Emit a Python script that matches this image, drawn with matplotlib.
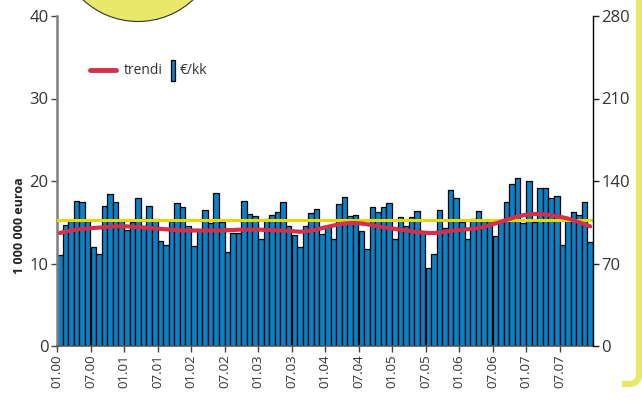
import matplotlib
matplotlib.use("Agg")
import matplotlib.pyplot as plt
from matplotlib.patches import Ellipse, Rectangle
from matplotlib.path import Path
from matplotlib.patches import PathPatch

plt.rcParams['font.family'] = ['Open Sans', 'DejaVu Sans']

# monthly values, 01.2000 .. 12.2007 (million euro)
values = [11.0, 14.7, 15.2, 17.6, 17.4, 15.2, 12.0, 11.2, 17.0, 18.4, 17.5, 15.2,
          14.1, 15.0, 18.0, 14.6, 17.0, 15.4, 12.7, 12.2, 15.2, 17.3, 16.9, 14.5,
          12.1, 14.1, 16.5, 14.9, 18.5, 15.0, 11.4, 13.7, 13.7, 17.6, 16.0, 15.8,
          13.0, 15.4, 15.9, 16.2, 17.5, 14.5, 13.4, 12.0, 14.6, 16.1, 16.6, 13.6,
          14.5, 13.0, 17.2, 18.1, 15.8, 15.9, 14.0, 11.8, 16.9, 16.2, 16.8, 17.3,
          13.0, 15.6, 14.5, 15.6, 16.4, 13.9, 9.5, 11.2, 16.5, 14.3, 18.9, 18.0,
          15.0, 13.0, 15.4, 16.4, 15.1, 15.2, 13.3, 15.3, 17.4, 19.6, 20.4, 14.9,
          20.0, 15.0, 19.2, 19.2, 17.9, 18.2, 12.3, 15.1, 16.3, 15.9, 17.5, 12.6]

trend = [13.7, 13.85, 14.0, 14.1, 14.2, 14.25, 14.3, 14.35, 14.4, 14.45, 14.5, 14.5,
         14.5, 14.45, 14.4, 14.35, 14.3, 14.25, 14.2, 14.15, 14.1, 14.05, 14.0, 14.0,
         14.0, 14.0, 14.0, 14.0, 14.0, 14.0, 14.05, 14.05, 14.1, 14.1, 14.1, 14.1,
         14.1, 14.05, 14.05, 14.0, 14.0, 13.95, 13.9, 13.85, 13.9, 14.0, 14.1, 14.3,
         14.45, 14.6, 14.75, 14.85, 14.9, 14.9, 14.85, 14.75, 14.65, 14.5, 14.4, 14.3,
         14.2, 14.1, 14.0, 13.9, 13.8, 13.75, 13.7, 13.7, 13.75, 13.85, 13.95, 14.05,
         14.1, 14.15, 14.2, 14.3, 14.45, 14.65, 14.85, 15.05, 15.3, 15.5, 15.7, 15.85,
         15.95, 16.0, 16.0, 15.95, 15.85, 15.75, 15.6, 15.45, 15.25, 15.0, 14.75, 14.5]

mean_level = 15.3

tick_labels = ['01.00', '07.00', '01.01', '07.01', '01.02', '07.02', '01.03', '07.03',
               '01.04', '07.04', '01.05', '07.05', '01.06', '07.06', '01.07', '07.07']
left_ticks = [0, 10, 20, 30, 40]
right_ticks = [0, 70, 140, 210, 280]

W, H = 642, 401
fig = plt.figure(figsize=(W / 100, H / 100), dpi=100)
ax = fig.add_axes([57 / W, 1 - 346 / H, (593 - 57) / W, (346 - 16) / H])

n = len(values)
xs = [i + 0.5 for i in range(n)]
ax.bar(xs, values, width=1.0, color='#0a82c6', edgecolor='black', linewidth=0.9, zorder=2)
ax.plot([0, n], [mean_level, mean_level], color='#e8d800', lw=2.2, zorder=3)
ax.plot(xs, trend, color='#d3304e', lw=3.0, zorder=4, solid_capstyle='round')

ax.set_xlim(0, n)
ax.set_ylim(0, 40)
ax.set_yticks(left_ticks)
ax.set_yticklabels([str(t) for t in left_ticks], fontsize=12, color='#333')
ax.set_xticks([6 * i for i in range(len(tick_labels))])
ax.set_xticklabels(tick_labels, rotation=90, fontsize=9.5, color='#333')
ax.tick_params(axis='x', length=4, width=1, pad=2, color='#444')
ax.tick_params(axis='y', length=4, width=1, pad=2, color='#444')

ax.spines['top'].set_visible(False)
ax.spines['left'].set_color('#808080')
ax.spines['left'].set_linewidth(1.8)
ax.spines['bottom'].set_color('#555')
ax.spines['bottom'].set_linewidth(1.2)
ax.spines['right'].set_visible(False)

ax2 = ax.twinx()
ax2.set_ylim(0, 280)
ax2.set_yticks(right_ticks)
ax2.set_yticklabels([str(t) for t in right_ticks], fontsize=12, color='#333')
ax2.tick_params(axis='y', length=4, width=1, pad=2, color='#222')
ax2.spines['top'].set_visible(False)
ax2.spines['left'].set_visible(False)
ax2.spines['bottom'].set_visible(False)
ax2.spines['right'].set_color('black')
ax2.spines['right'].set_linewidth(1.0)

fig.text(20 / W, 1 - 226 / H, '1 000 000 euroa', rotation=90, fontsize=9,
         fontweight='bold', ha='center', va='center', color='#222')

# legend
fig.add_artist(plt.Line2D([90 / W, 116 / W], [1 - 70 / H, 1 - 70 / H], color='#d3304e',
                          lw=3.5, solid_capstyle='round', transform=fig.transFigure))
fig.text(124 / W, 1 - 70 / H, 'trendi', fontsize=10, va='center', ha='left', color='#333')
fig.add_artist(Rectangle((171 / W, 1 - 81 / H), 4 / W, 21 / H, transform=fig.transFigure,
                         facecolor='#0a82c6', edgecolor='black', lw=0.9))
fig.text(180 / W, 1 - 70 / H, '€/kk', fontsize=10, va='center', ha='left', color='#333')

# decorative yellow circle at top
fig.add_artist(Ellipse((138 / W, 1 + 59 / H), 161 / W, 161 / H, transform=fig.transFigure,
                       facecolor='#e8e86a', edgecolor='#333', lw=0.8))

# yellow frame corner at right
verts = [(639 / W, 1.0), (639 / W, 1 - 374 / H), (639 / W, 1 - 384 / H),
         (629 / W, 1 - 384 / H), (622 / W, 1 - 384 / H)]
codes = [Path.MOVETO, Path.LINETO, Path.CURVE3, Path.CURVE3, Path.LINETO]
fig.add_artist(PathPatch(Path(verts, codes), transform=fig.transFigure, facecolor='none',
                         edgecolor='#e8e86a', lw=4.5))

fig.savefig('out.png', dpi=100)
